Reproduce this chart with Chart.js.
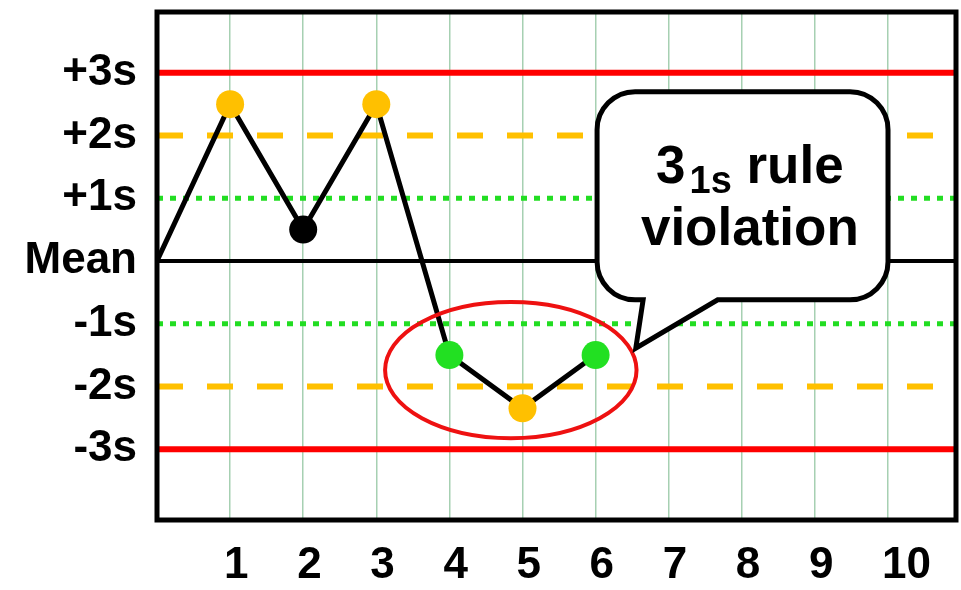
<!DOCTYPE html>
<html>
<head>
<meta charset="utf-8">
<script src="https://cdn.jsdelivr.net/npm/chart.js@4"></script>
<style>
  body { margin: 0; background: #fff; }
</style>
</head>
<body>
<canvas id="qcChart" width="961" height="590"></canvas>
<script>
// run number and control value (in SD units)
const runs = [0, 1, 2, 3, 4, 5, 6];
const qcValues = [0, 2.5, 0.5, 2.5, -1.5, -2.35, -1.5];
const pointColors = ["#000000", "#FFC000", "#000000", "#FFC000", "#22E022", "#FFC000", "#22E022"];
const xTickValues = [1, 2, 3, 4, 5, 6, 7, 8, 9, 10];
const xTickLabels = ["1", "2", "3", "4", "5", "6", "7", "8", "9", "10"];
const yTickValues = [3, 2, 1, 0, -1, -2, -3];
const yTickLabels = ["+3s", "+2s", "+1s", "Mean", "-1s", "-2s", "-3s"];
const controlLevels = [3, 2, 1, 0, -1, -2, -3];

const X_MAX = 10.93;
const Y_MIN = -4.13;
const Y_MAX = 3.97;

const levelStyle = (lvl) => {
  const a = Math.abs(lvl);
  if (a === 3) return { color: "#FF0000", width: 6, dash: [] };
  if (a === 2) return { color: "#FFC000", width: 6, dash: [26, 24] };
  if (a === 1) return { color: "#22DD22", width: 5, dash: [6, 7] };
  return { color: "#000000", width: 4, dash: [] };
};

const controlSets = controlLevels.map((lvl) => {
  const s = levelStyle(lvl);
  return {
    data: [{ x: 0, y: lvl }, { x: X_MAX, y: lvl }],
    borderColor: s.color,
    borderWidth: s.width,
    borderDash: s.dash,
    pointRadius: 0,
    order: 2,
  };
});

const qcSet = {
  data: runs.map((r, i) => ({ x: r, y: qcValues[i] })),
  borderColor: "#000000",
  borderWidth: 5,
  tension: 0,
  pointRadius: runs.map((r, i) => (i === 0 ? 0 : 14)),
  pointBackgroundColor: pointColors,
  pointBorderWidth: 0,
  order: 1,
};

// ellipse + speech bubble, positioned in data units
const ring = { cx: 4.84, cy: -1.74, rx: 1.72, ry: 1.085 };
const bubble = { x0: 6.02, x1: 10.0, y0: 2.7, y1: -0.62, tailL: 6.65, tailR: 7.67, tipX: 6.55, tipY: -1.39 };
const bubbleText = { x: 8.11, line1: 1.245, line2: 0.255 };

const overlay = {
  id: "overlay",
  afterDatasetsDraw(chart) {
    const { ctx, chartArea: a } = chart;
    const xs = chart.scales.x, ys = chart.scales.y;
    const px = (v) => xs.getPixelForValue(v);
    const py = (v) => ys.getPixelForValue(v);
    ctx.save();

    // red ring
    ctx.beginPath();
    ctx.ellipse(px(ring.cx), py(ring.cy), px(ring.cx + ring.rx) - px(ring.cx),
      py(ring.cy) - py(ring.cy + ring.ry), 0, 0, Math.PI * 2);
    ctx.strokeStyle = "#EE1111";
    ctx.lineWidth = 4;
    ctx.stroke();

    // bubble
    const x0 = px(bubble.x0), x1 = px(bubble.x1), y0 = py(bubble.y0), y1 = py(bubble.y1);
    const r = 38;
    ctx.beginPath();
    ctx.moveTo(x0 + r, y0);
    ctx.lineTo(x1 - r, y0);
    ctx.arcTo(x1, y0, x1, y0 + r, r);
    ctx.lineTo(x1, y1 - r);
    ctx.arcTo(x1, y1, x1 - r, y1, r);
    ctx.lineTo(px(bubble.tailR), y1);
    ctx.lineTo(px(bubble.tipX), py(bubble.tipY));
    ctx.lineTo(px(bubble.tailL), y1);
    ctx.lineTo(x0 + r, y1);
    ctx.arcTo(x0, y1, x0, y1 - r, r);
    ctx.lineTo(x0, y0 + r);
    ctx.arcTo(x0, y0, x0 + r, y0, r);
    ctx.closePath();
    ctx.fillStyle = "#FFFFFF";
    ctx.fill();
    ctx.strokeStyle = "#000000";
    ctx.lineWidth = 5;
    ctx.lineJoin = "miter";
    ctx.stroke();

    // bubble text: 3 with subscript 1s, then "rule", then "violation"
    ctx.fillStyle = "#000000";
    ctx.textBaseline = "alphabetic";
    ctx.textAlign = "left";
    const big = "bold 53px 'Liberation Sans', Arial, sans-serif";
    const small = "bold 38px 'Liberation Sans', Arial, sans-serif";
    ctx.font = big;
    const w3 = ctx.measureText("3").width;
    const wRule = ctx.measureText(" rule").width;
    ctx.font = small;
    const wSub = ctx.measureText("1s").width;
    const cx = px(bubbleText.x);
    let tx = cx - (w3 + 4 + wSub + wRule) / 2;
    const b1 = py(bubbleText.line1);
    ctx.font = big;
    ctx.fillText("3", tx, b1);
    tx += w3 + 4;
    ctx.font = small;
    ctx.fillText("1s", tx, b1 + 10);
    tx += wSub;
    ctx.font = big;
    ctx.fillText(" rule", tx, b1);
    ctx.textAlign = "center";
    ctx.fillText("violation", cx, py(bubbleText.line2));

    // plot frame
    ctx.strokeStyle = "#000000";
    ctx.lineWidth = 5;
    ctx.strokeRect(a.left, a.top, a.right - a.left, a.bottom - a.top);
    ctx.restore();
  },
};

const tickFont = { family: "'Liberation Sans', Arial, sans-serif", size: 44, weight: "bold" };

new Chart(document.getElementById("qcChart"), {
  type: "line",
  data: { datasets: [...controlSets, qcSet] },
  options: {
    responsive: false,
    animation: false,
    layout: { autoPadding: false, padding: { top: 12, right: 5, left: 0, bottom: 0 } },
    plugins: { legend: { display: false }, tooltip: { enabled: false } },
    scales: {
      x: {
        type: "linear",
        min: 0,
        max: X_MAX,
        afterBuildTicks: (scale) => {
          scale.ticks = xTickValues.map((v) => ({ value: v }));
        },
        afterFit: (scale) => {
          scale.height = 70;
          scale.paddingLeft = 0;
          scale.paddingRight = 0;
        },
        grid: { color: "rgba(150,200,165,0.85)", lineWidth: 1.5, drawTicks: false },
        border: { display: false },
        ticks: {
          color: "#000000",
          font: tickFont,
          padding: 19,
          align: "start",
          labelOffset: -6,
          maxRotation: 0,
          callback: (v) => xTickLabels[xTickValues.indexOf(v)],
        },
      },
      y: {
        type: "linear",
        min: Y_MIN,
        max: Y_MAX,
        afterBuildTicks: (scale) => {
          scale.ticks = yTickValues.map((v) => ({ value: v }));
        },
        afterFit: (scale) => {
          scale.width = 157;
          scale.paddingTop = 0;
          scale.paddingBottom = 0;
        },
        grid: { display: false, drawTicks: false },
        border: { display: false },
        ticks: {
          color: "#000000",
          font: tickFont,
          padding: 20,
          callback: (v) => yTickLabels[yTickValues.indexOf(v)],
        },
      },
    },
  },
  plugins: [overlay],
});
</script>
</body>
</html>
